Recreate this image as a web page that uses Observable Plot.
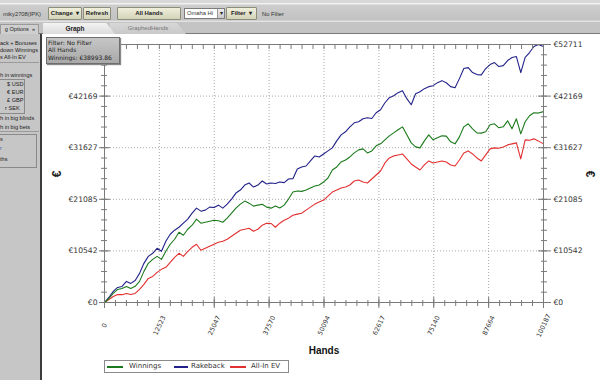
<!DOCTYPE html>
<html>
<head>
<meta charset="utf-8">
<script src="https://cdn.jsdelivr.net/npm/d3@7"></script>
<script src="https://cdn.jsdelivr.net/npm/@observablehq/plot@0.6"></script>
<style>
html,body{margin:0;padding:0;}
body{width:600px;height:380px;overflow:hidden;position:relative;background:#c6c6c6;font-family:"Liberation Sans",Arial,sans-serif;color:#222;}
.a{position:absolute;white-space:nowrap;box-sizing:border-box;}
.btn{top:7px;height:13px;border:1px solid #8d8d7c;border-radius:1px;background:linear-gradient(#efefdc,#d3d3b9);font-size:6px;font-weight:bold;line-height:11px;text-align:center;color:#222;}
.side{left:0;font-size:5.6px;line-height:8px;color:#222;}
.leg{top:361px;font-size:7px;line-height:10px;color:#333;font-family:"DejaVu Sans",sans-serif;}
.sw{top:366px;height:1.5px;}
.fl{left:48px;font-family:"DejaVu Sans",sans-serif;font-size:6px;line-height:6.5px;color:#222;}
</style>
</head>
<body>
<div class="a" style="left:0;top:0;width:600px;height:22px;background:linear-gradient(#d8d8d8 0,#d8d8d8 3px,#f2f2f2 3px,#f2f2f2 4px,#cdcdcd 5px,#c2c2c2 20px,#e2e2e2 21px,#e2e2e2 22px)"></div>
<div class="a" style="left:3px;top:10px;font-size:5.8px;line-height:8px;color:#333">miky2708(IPK)</div>
<div class="a btn" style="left:48px;width:34px">Change&nbsp;&nbsp;▾</div>
<div class="a btn" style="left:83px;width:28px">Refresh</div>
<div class="a btn" style="left:117px;width:64px">All Hands</div>
<div class="a" style="left:184px;top:8px;width:41px;height:11px;border:1px solid #7d7d7d;background:#fff;font-size:5.8px;line-height:9px;padding-left:2px;color:#333">Omaha Hi</div>
<div class="a" style="left:217px;top:9px;width:7px;height:9px;background:linear-gradient(#eee,#c8c8c8);border-left:1px solid #999;font-size:6px;line-height:9px;text-align:center">▾</div>
<div class="a btn" style="left:226px;width:31px">Filter&nbsp;&nbsp;▾</div>
<div class="a" style="left:262px;top:10px;font-size:5.8px;line-height:8px;color:#333">No Filter</div>

<div class="a" style="left:0;top:22px;width:600px;height:12px;background:#c4c4c4;border-bottom:1px solid #7a7a7a"></div>
<div class="a" style="left:0;top:24px;width:39px;height:10px;border:1px solid #9a9a9a;border-bottom:none;background:#cfcfcf;font-size:5.6px;line-height:9px;text-align:right;padding-right:3px">g Options&nbsp;&nbsp;«</div>
<div class="a" style="left:110px;top:23px;width:76px;height:11px;background:linear-gradient(#d8d8d8,#c8c8c8);clip-path:polygon(0 0,88% 0,100% 100%,0 100%);font-size:6px;line-height:11px;color:#777;text-align:center">GraphedHands</div>
<div class="a" style="left:43px;top:23px;width:72px;height:11px;background:linear-gradient(#f3f3f3,#dcdcdc);clip-path:polygon(0 0,88% 0,100% 100%,0 100%);font-size:6.5px;font-weight:bold;line-height:11px;text-align:center;padding-right:8px">Graph</div>

<div class="a" style="left:0;top:34px;width:40px;height:346px;background:#c6c6c6;overflow:hidden">
<div class="a side" style="top:5px">ack + Bonuses</div>
<div class="a side" style="top:12px">down Winnings</div>
<div class="a side" style="top:19px">s All-In EV</div>
<div class="a" style="left:0;top:28px;width:39px;height:1px;background:#9a9a9a"></div>
<div class="a side" style="top:37px">h in winnings</div>
<div class="a" style="left:0;top:45px;width:25px;height:35px;border:1px solid #8a8a8a;border-left:none"></div>
<div class="a side" style="left:7px;top:46px">$ USD</div>
<div class="a side" style="left:7px;top:54px">€ EUR</div>
<div class="a side" style="left:7px;top:62px">£ GBP</div>
<div class="a side" style="left:5px;top:70px">r SEK</div>
<div class="a side" style="top:80px">h in big blinds</div>
<div class="a side" style="top:89px">h in big bets</div>
<div class="a" style="left:0;top:97px;width:39px;height:1px;background:#9a9a9a"></div>
<div class="a" style="left:0;top:100px;width:37px;height:34px;border:1px solid #8a8a8a;border-left:none"></div>
<div class="a side" style="top:101px">s</div>
<div class="a side" style="top:110px;color:#3a5ab0">r</div>
<div class="a side" style="top:121px">ths</div>
</div>
<div class="a" style="left:40px;top:34px;width:2px;height:346px;background:#3c3c3c"></div>

<div class="a" id="chart" style="left:42px;top:34px;width:558px;height:346px;background:#fff"></div>

<div class="a" style="left:46px;top:37px;width:74px;height:27px;background:linear-gradient(#c6c6c6,#a9a9a9);border:1px solid #6e6e6e;box-shadow:1px 1px 1px #888"></div>
<div class="a fl" style="top:39.5px">Filter: No Filter</div>
<div class="a fl" style="top:47px">All Hands</div>
<div class="a fl" style="top:54.5px">Winnings: €38993.86</div>

<div class="a" style="left:51px;top:167px;width:12px;height:14px;font-size:12px;font-weight:bold;line-height:14px;text-align:center;transform:rotate(-90deg)">€</div>
<div class="a" style="left:584px;top:167px;width:12px;height:14px;font-size:12px;font-weight:bold;line-height:14px;text-align:center;transform:rotate(90deg)">€</div>
<div class="a" style="left:288px;top:344px;width:72px;text-align:center;font-size:10px;font-weight:bold;line-height:14px;color:#111">Hands</div>

<div class="a" style="left:104px;top:360px;width:185px;height:13px;border:1px solid #8a8a8a;background:#fff"></div>
<div class="a sw" style="left:107px;width:16px;background:#1b7a1b"></div>
<div class="a leg" style="left:129px">Winnings</div>
<div class="a sw" style="left:174px;width:14px;background:#22228a"></div>
<div class="a leg" style="left:191px">Rakeback</div>
<div class="a sw" style="left:230px;width:16px;background:#e23030"></div>
<div class="a leg" style="left:251px">All-In EV</div>

<script>
const hands = [0,1000,2000,3000,4000,5000,6000,7000,8000,9000,
10000,11000,12000,13000,14000,15000,16000,17000,18000,19000,
20000,21000,22000,23000,24000,25000,26000,27000,28000,29000,
30000,31000,32000,33000,34000,35000,36000,37000,38000,39000,
40000,41000,42000,43000,44000,45000,46000,47000,48000,49000,
50000,51000,52000,53000,54000,55000,56000,57000,58000,59000,
60000,61000,62000,63000,64000,65000,66000,67000,68000,69000,
70000,71000,72000,73000,74000,75000,76000,77000,78000,79000,
80000,81000,82000,83000,84000,85000,86000,87000,88000,89000,
90000,91000,92000,93000,94000,95000,96000,97000,98000,99000,
100187];

const winnings = [0,820,1850,2670,2870,3280,2870,3300,4310,6360,
8000,8820,9430,8820,10460,11900,12920,14360,13740,14970,
15790,17020,16200,16410,16610,16820,16700,16400,17230,18250,
19280,20100,20720,20300,19690,19890,20080,19480,19280,19700,
19300,19900,21130,22560,22770,22700,22970,23380,23790,24000,
24610,25430,27070,27690,28710,29120,29740,30560,31180,31380,
30560,30970,32000,32410,33230,34050,34660,35280,35890,34250,
32610,31790,31590,33020,34250,33230,33640,34050,34000,32820,
32410,33840,35890,36510,35480,34660,34600,34870,36300,36510,
35690,35890,37120,35480,37530,34460,36920,38150,38760,38700,
38993.86];

const rakeback = [0,1030,2260,3080,3280,4310,3900,4510,5950,8000,
9430,10050,11080,10460,12510,13950,14770,15380,16200,17020,
18250,19280,18660,18870,19480,19400,19890,19280,20100,21130,
22360,22970,24000,24410,23590,23990,24820,24200,24410,24300,
24610,24500,25230,25300,27280,27690,27890,28920,29940,29740,
30350,30970,31590,33020,34250,34870,35890,36710,36920,37530,
37740,37600,38760,39380,40810,41840,42250,42870,43280,41640,
40400,42660,43070,43690,44100,44300,44920,45330,44900,44100,
43890,45740,47790,47990,46970,46560,46500,47800,48610,49020,
48200,48400,49430,50040,50250,46970,50100,51070,52300,52711,
52300];

const allInEV = [0,620,1230,1640,1600,1850,1640,1850,2670,3690,
4920,5330,6150,6770,7180,8200,9230,10050,9430,10460,
11280,11900,10670,11080,11490,11900,12310,12510,12920,13540,
14150,14770,14970,15180,14560,14970,15790,16200,16150,15380,
16200,16820,17230,17840,18050,18250,18870,19480,20100,20510,
20920,21740,22560,22970,23380,23590,24000,24820,25020,24610,
24410,25230,26050,26870,28510,29530,29950,30150,30350,29330,
28300,27690,27070,28100,28920,28510,28710,28900,28700,28090,
27890,29120,30560,30970,30350,29530,28920,30150,31380,31590,
31500,31790,32200,32410,32610,29330,33230,33150,33430,33020,
32410];

const seriesNames = ["Winnings", "Rakeback", "All-In EV"];
const seriesColors = ["#1b7a1b", "#22228a", "#e23030"];
const xTicks = [0,12523,25047,37570,50094,62617,75140,87664,100187];
const yTicks = [0,10542,21085,31627,42169,52711];
// the filter box covers the top-left tick label in the reference
const yTicksLeftVisible = yTicks.slice(0, -1);

const xMax = 100187, yMax = 52711;
const xMinor = d3.range(0, 41).map(i => i * xMax / 40);
const yMinor = d3.range(0, 26).map(i => i * yMax / 25);
const axisColor = "#7a7a7a";
const noText = () => "";
const tickOpts = {fill: "none", stroke: axisColor, label: null, tickFormat: noText};

const svg = Plot.plot({
  width: 558,
  height: 346,
  marginLeft: 62,
  marginRight: 57,
  marginTop: 10,
  marginBottom: 78,
  x: {domain: [0, xMax], axis: null},
  y: {domain: [0, yMax], axis: null},
  style: {background: "white", fontFamily: "DejaVu Sans, sans-serif", color: "#333", overflow: "visible"},
  marks: [
    Plot.ruleX(xTicks.slice(1, -1), {stroke: "#a8a8a8", strokeDasharray: "1,2"}),
    Plot.ruleY(yTicks.slice(1, -1), {stroke: "#a8a8a8", strokeDasharray: "1,2"}),
    Plot.line(hands, {x: hands, y: rakeback, stroke: seriesColors[1], strokeWidth: 1.1}),
    Plot.line(hands, {x: hands, y: allInEV, stroke: seriesColors[2], strokeWidth: 1.1}),
    Plot.line(hands, {x: hands, y: winnings, stroke: seriesColors[0], strokeWidth: 1.1}),
    Plot.frame({stroke: axisColor}),
    Plot.axisX(xMinor, {anchor: "bottom", tickSize: 6, dy: -2, ...tickOpts}),
    Plot.axisX(xTicks, {anchor: "bottom", tickSize: 11, dy: -5, ...tickOpts}),
    Plot.axisX(xMinor, {anchor: "top", tickSize: 5, dy: 4, ...tickOpts}),
    Plot.axisY(yMinor, {anchor: "left", tickSize: 6, dx: 3, ...tickOpts}),
    Plot.axisY(yTicks, {anchor: "left", tickSize: 11, dx: 6, ...tickOpts}),
    Plot.axisY(yMinor, {anchor: "right", tickSize: 6, dx: -3, ...tickOpts}),
    Plot.axisY(yTicks, {anchor: "right", tickSize: 13, dx: -6, ...tickOpts}),
    Plot.text(xTicks, {x: d => d, frameAnchor: "bottom", dy: 23, rotate: -65, text: d => String(d),
      textAnchor: "middle", lineAnchor: "middle", fontSize: 6.5, fill: "#333"}),
    Plot.text(yTicksLeftVisible, {y: d => d, frameAnchor: "left", dx: -7, text: d => "€" + d,
      textAnchor: "end", lineAnchor: "middle", fontSize: 7.6, fill: "#333"}),
    Plot.text(yTicks, {y: d => d, frameAnchor: "right", dx: 10, text: d => "€" + d,
      textAnchor: "start", lineAnchor: "middle", fontSize: 7.6, fill: "#333"})
  ]
});
document.getElementById("chart").appendChild(svg);
</script>
</body>
</html>
